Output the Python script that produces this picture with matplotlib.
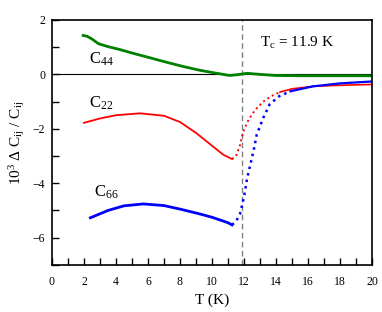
import numpy as np
import matplotlib
matplotlib.use("Agg")
import matplotlib.pyplot as plt

plt.rcParams['font.family'] = ['Liberation Serif', 'DejaVu Serif']
plt.rcParams['mathtext.fontset'] = 'custom'
plt.rcParams['mathtext.rm'] = 'Liberation Serif'
plt.rcParams['mathtext.it'] = 'Liberation Serif'

# C44 (green)
T44 = [1.95, 2.2, 2.5, 2.9, 3.5, 4.2, 5.1, 6.0, 7.2, 8.2, 9.25, 10.2, 11.1, 11.6, 12.2, 13.0, 14.0, 15.5, 17.0, 18.5, 20.0]
C44 = [1.43, 1.40, 1.30, 1.13, 1.02, 0.92, 0.77, 0.63, 0.44, 0.29, 0.15, 0.05, -0.04, -0.01, 0.04, 0.0, -0.04, -0.05, -0.05, -0.05, -0.05]

# C22 (red)
T22 = [2.0, 3.0, 4.0, 5.5, 7.0, 8.0, 9.0, 10.0, 10.7, 11.25, 11.5, 11.75, 11.95, 12.3, 12.7, 13.2, 13.7, 14.25, 15.0, 16.3, 18.0, 20.0]
C22 = [-1.78, -1.62, -1.50, -1.43, -1.52, -1.75, -2.15, -2.62, -2.95, -3.11, -3.0, -2.6, -2.1, -1.65, -1.3, -1.0, -0.8, -0.65, -0.53, -0.44, -0.40, -0.37]

# C66 (blue)
T66 = [2.4, 3.5, 4.5, 5.7, 7.0, 8.0, 9.25, 10.0, 11.0, 11.25, 11.5, 11.75, 12.0, 12.2, 12.4, 12.6, 12.8, 13.2, 13.6, 14.2, 14.9, 16.3, 18.0, 20.0]
C66 = [-5.27, -5.0, -4.83, -4.76, -4.82, -4.95, -5.13, -5.25, -5.45, -5.53, -5.4, -5.13, -4.5, -3.8, -3.3, -2.8, -2.2, -1.6, -1.1, -0.8, -0.62, -0.44, -0.33, -0.26]

Tc = 11.9
# index ranges: solid / dotted (sparse data near the transition) / solid
seg22 = (9, 17)
seg66 = (9, 20)

fig = plt.figure(figsize=(3.82, 3.12), dpi=100)
ax = fig.add_axes([0.136, 0.151, 0.838, 0.785])

ax.axhline(0, color='black', lw=0.8, zorder=1)
ax.axvline(Tc, color='gray', lw=1.0, ls=(0, (4, 2.5)), zorder=1)

green = (0, 0.5, 0)
ax.plot(T44, C44, '-', color=green, lw=2.0)

a, b = seg22
ax.plot(T22[:a + 1], C22[:a + 1], '-', color='red', lw=1.3)
ax.plot(T22[a:b + 1], C22[a:b + 1], ':', color='red', lw=1.4)
ax.plot(T22[b:], C22[b:], '-', color='red', lw=1.2)

a, b = seg66
ax.plot(T66[:a + 1], C66[:a + 1], '-', color='blue', lw=2.0)
ax.plot(T66[a:b + 1], C66[a:b + 1], ':', color='blue', lw=1.8)
ax.plot(T66[b:], C66[b:], '-', color='blue', lw=1.6)

ax.text(2.3, 0.38, r'C$_{44}$', fontsize=12)
ax.text(2.3, -1.22, r'C$_{22}$', fontsize=12)
ax.text(2.6, -4.5, r'C$_{66}$', fontsize=12)
ax.text(13.0, 1.0, r'T$_{\rm c}$ = 11.9 K', fontsize=11)

ax.set_xlim(0, 20)
ax.set_ylim(-7, 2)
ax.set_xticks(np.arange(0, 21, 2))
ax.set_xticks(np.arange(0, 21, 1), minor=True)
ax.set_yticks(np.arange(-6, 3, 2))
ax.set_yticks(np.arange(-7, 3, 1), minor=True)
ax.tick_params(which='both', direction='in', length=5, width=1, labelsize=8.5, pad=8)
ax.tick_params(axis='y', pad=5)
for s in ax.spines.values():
    s.set_linewidth(1.2)

ax.set_xlabel('T (K)', fontsize=11)
ax.set_ylabel(r'10$^3$ $\Delta$ C$_{\rm ij}$ / C$_{\rm ij}$', fontsize=11)

fig.savefig('out.png', dpi=100)
